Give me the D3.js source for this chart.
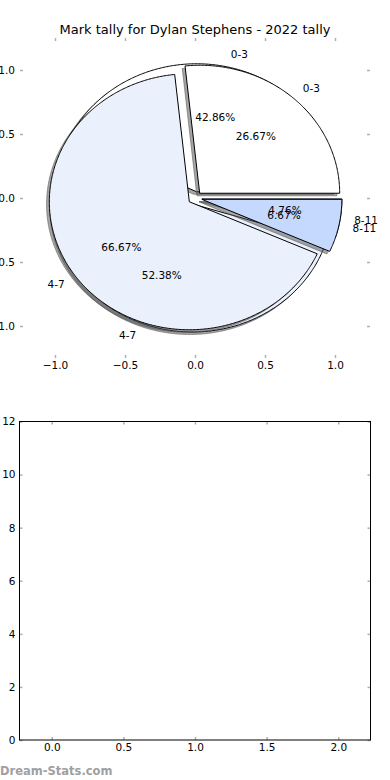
<!DOCTYPE html>
<html>
<head>
<meta charset="utf-8">
<script src="https://cdn.jsdelivr.net/npm/d3@7"></script>
<style>
  html, body { margin: 0; padding: 0; background: #fff; }
  svg { display: block; }
  text { font-family: "DejaVu Sans", sans-serif; }
</style>
</head>
<body>
<svg id="chart" width="390" height="780"></svg>
<script>
// ---- data ----
const title = "Mark tally for Dylan Stephens - 2022 tally";
const categories = ["0-3", "4-7", "8-11"];
const tallyA = [9, 11, 1];   // 42.86%, 52.38%, 4.76%
const tallyB = [4, 10, 1];   // 26.67%, 66.67%, 6.67%
const pieTicks = [-1.0, -0.5, 0.0, 0.5, 1.0];
const barXTicks = [0.0, 0.5, 1.0, 1.5, 2.0];
const barYTicks = [0, 2, 4, 6, 8, 10, 12];
const watermark = "Dream-Stats.com";

// ---- style ----
const wedgeColors = ["#ffffff", "#eaf1fd", "#c5d9ff"];
const explode = 0.05;
const tickColor = "#b0b0b0";

const svg = d3.select("#chart");

// title
svg.append("text").attr("x", 195).attr("y", 34).attr("text-anchor", "middle")
  .attr("font-size", 13).attr("fill", "#000").text(title);

// ---- top (pie) axes ----
const px = d3.scaleLinear().domain([-1.25, 1.25]).range([20, 370]);
const py = d3.scaleLinear().domain([-1.25, 1.25]).range([358, 38]);

const gPie = svg.append("g");
const gText = svg.append("g");
const line = d3.line().x(d => px(d[0])).y(d => py(d[1]));

function wedgePts(cx, cy, a0, a1, dx, dy) {
  const pts = [[cx + dx, cy + dy]];
  const n = Math.max(8, Math.ceil((a1 - a0) / 0.01));
  for (let i = 0; i <= n; i++) {
    const a = a0 + (a1 - a0) * i / n;
    pts.push([cx + dx + Math.cos(a), cy + dy + Math.sin(a)]);
  }
  pts.push([cx + dx, cy + dy]);
  return pts;
}

function drawPie(values) {
  const total = d3.sum(values);
  const arcs = d3.pie().sort(null)(values);
  const wedges = arcs.map((a, i) => {
    const a0 = a.startAngle, a1 = a.endAngle, am = (a0 + a1) / 2;
    const cx = explode * Math.cos(am), cy = explode * Math.sin(am);
    return { a0, a1, am, cx, cy, i, v: values[i] };
  });
  // shadows
  wedges.forEach(w => {
    gPie.append("path")
      .attr("d", line(wedgePts(w.cx, w.cy, w.a0, w.a1, -0.02, -0.02)) + "Z")
      .attr("fill", "rgb(77,77,77)").attr("fill-opacity", 0.5)
      .attr("stroke", "rgb(77,77,77)").attr("stroke-opacity", 0.5).attr("stroke-width", 1);
  });
  // wedges
  wedges.forEach(w => {
    gPie.append("path")
      .attr("d", line(wedgePts(w.cx, w.cy, w.a0, w.a1, 0, 0)) + "Z")
      .attr("fill", wedgeColors[w.i]).attr("stroke", "#000").attr("stroke-width", 1)
      .attr("stroke-linejoin", "miter");
  });
  // labels
  wedges.forEach(w => {
    const lx = w.cx + 1.1 * Math.cos(w.am), ly = w.cy + 1.1 * Math.sin(w.am);
    gText.append("text").attr("x", px(lx)).attr("y", py(ly)).attr("dy", "0.35em")
      .attr("text-anchor", lx > 0 ? "start" : "end").attr("font-size", 10.5)
      .text(categories[w.i]);
    const tx = w.cx + 0.6 * Math.cos(w.am), ty = w.cy + 0.6 * Math.sin(w.am);
    gText.append("text").attr("x", px(tx)).attr("y", py(ty)).attr("dy", "0.35em")
      .attr("text-anchor", "middle").attr("font-size", 10.5)
      .text((100 * w.v / total).toFixed(2) + "%");
  });
}
drawPie(tallyA);
drawPie(tallyB);

function styleAxis(g) {
  g.selectAll(".tick line").attr("stroke", tickColor).attr("stroke-width", 1.5);
  g.selectAll(".tick text").attr("font-size", 10.5).attr("fill", "#000")
    .attr("font-family", "DejaVu Sans, sans-serif");
}
const fmt = d => d3.format(".1f")(d).replace("-", "\u2212");

// pie axes ticks (inward, no spines)
svg.append("g").attr("transform", "translate(0,358)")
  .call(d3.axisBottom(px).tickValues(pieTicks).tickFormat(fmt).tickSize(-3).tickPadding(4))
  .call(g => g.select(".domain").remove()).call(styleAxis);
svg.append("g").attr("transform", "translate(0,38)")
  .call(d3.axisTop(px).tickValues(pieTicks).tickFormat("").tickSize(-3))
  .call(g => g.select(".domain").remove()).call(styleAxis);
svg.append("g").attr("transform", "translate(20,0)")
  .call(d3.axisLeft(py).tickValues(pieTicks).tickFormat(fmt).tickSize(-3).tickPadding(5))
  .call(g => g.select(".domain").remove()).call(styleAxis);
svg.append("g").attr("transform", "translate(370,0)")
  .call(d3.axisRight(py).tickValues(pieTicks).tickFormat("").tickSize(-3))
  .call(g => g.select(".domain").remove()).call(styleAxis);

// ---- bottom (empty) axes ----
const bx = d3.scaleLinear().domain([-0.225, 2.225]).range([19.5, 370.5]);
const by = d3.scaleLinear().domain([0, 12]).range([740, 421.5]);

svg.append("g").attr("transform", "translate(0,740)")
  .call(d3.axisBottom(bx).tickValues(barXTicks).tickFormat(d3.format(".1f")).tickSize(-3).tickPadding(4))
  .call(g => g.select(".domain").remove()).call(styleAxis);
svg.append("g").attr("transform", "translate(0,421.5)")
  .call(d3.axisTop(bx).tickValues(barXTicks).tickFormat("").tickSize(-3))
  .call(g => g.select(".domain").remove()).call(styleAxis);
svg.append("g").attr("transform", "translate(19.5,0)")
  .call(d3.axisLeft(by).tickValues(barYTicks).tickFormat(d3.format("d")).tickSize(-3).tickPadding(4))
  .call(g => g.select(".domain").remove()).call(styleAxis);
svg.append("g").attr("transform", "translate(370.5,0)")
  .call(d3.axisRight(by).tickValues(barYTicks).tickFormat("").tickSize(-3))
  .call(g => g.select(".domain").remove()).call(styleAxis);

svg.append("rect").attr("x", bx.range()[0]).attr("y", by.range()[1])
  .attr("width", bx.range()[1] - bx.range()[0]).attr("height", by.range()[0] - by.range()[1])
  .attr("fill", "none").attr("stroke", "#000").attr("stroke-width", 1);

// watermark
svg.append("text").attr("x", 0).attr("y", 775).attr("font-size", 11.5).attr("font-weight", 600)
  .attr("fill", "#a0a0a0").attr("font-family", "Open Sans, DejaVu Sans, sans-serif").text(watermark);
</script>
</body>
</html>
